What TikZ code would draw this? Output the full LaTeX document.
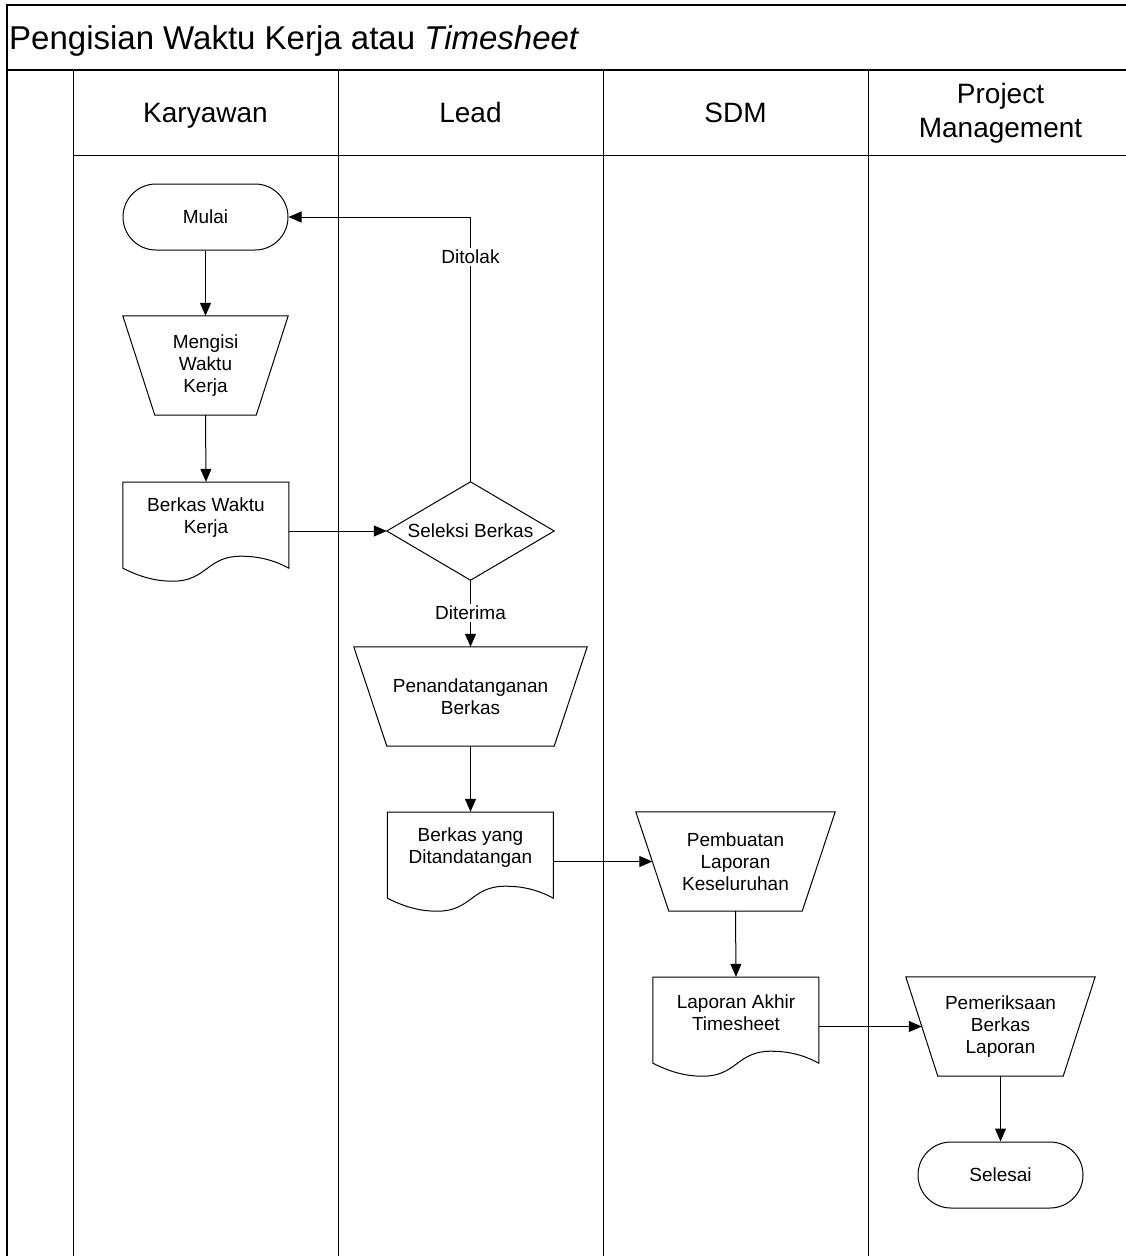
\documentclass[tikz,border=0pt]{standalone}
\usepackage{fontspec}
\setmainfont{Liberation Sans}
\usetikzlibrary{arrows.meta,calc}
\tikzset{
  every node/.style={font=\fontsize{19}{22}\selectfont, align=center, inner sep=0pt},
  term/.style={draw, line width=1pt, rounded corners=33pt, minimum width=165pt, minimum height=66pt},
  manop/.style={minimum width=#1, minimum height=99pt},
  docu/.style={minimum width=166pt, minimum height=72pt},
  decis/.style={minimum width=167pt, minimum height=98pt},
  arr/.style={-{Triangle[length=13pt,width=11pt]}, line width=1pt},
  lbl/.style={fill=white, inner sep=2pt},
  shp/.style={line width=1pt},
  lane/.style={line width=1pt},
  frm/.style={line width=1.6pt},
  hdr/.style={font=\fontsize{28}{34}\selectfont},
}
\newcommand{\trapdraw}[2]{\draw[shp] (#1.north west) -- (#1.north east) -- ([xshift=-#2]#1.south east) -- ([xshift=#2]#1.south west) -- cycle;}
\newcommand{\docdraw}[1]{\begin{scope}[shift={([yshift=-14pt]#1.south west)}, x=1pt, y=1pt]
  \draw[shp] (0,0) .. controls (20,-10) and (35,-13) .. (50,-13) .. controls (84,-13) and (84,12) .. (118,12) .. controls (140,12) and (155,6) .. (166,0) -- (166,86) -- (0,86) -- cycle;
\end{scope}}
\begin{document}
\begin{tikzpicture}[x=1pt,y=-1pt]
\clip (0,0) rectangle (1126,1256);
% frame and lanes
\draw[frm] (7,1300) -- (7,5) -- (1140,5);
\draw[frm] (7,70) -- (1140,70);
\draw[lane] (73,70) -- (73,1300);
\draw[lane] (338,70) -- (338,1300);
\draw[lane] (603,70) -- (603,1300);
\draw[lane] (868,70) -- (868,1300);
\draw[lane] (73,155) -- (1140,155);
% title and headers
\node[anchor=base west, font=\fontsize{33}{40}\selectfont] (title) at (9,49) {Pengisian Waktu Kerja atau \textit{Timesheet}};
\node[hdr, anchor=base] (hk) at (205.5,122) {Karyawan};
\node[hdr, anchor=base] (hl) at (470.5,122) {Lead};
\node[hdr, anchor=base] (hs) at (735.5,122) {SDM};
\node[hdr] (hp) at (1000.5,113) {Project\\Management};
% nodes
\node[term] (mulai) at (205.5,217) {Mulai};
\node[manop=165pt] (mengisi) at (205.5,365.5) {Mengisi\\Waktu\\Kerja};
\trapdraw{mengisi}{32pt}
\node[docu] (berkas) at (206,518) {Berkas Waktu\\Kerja};
\docdraw{berkas}
\node[decis] (seleksi) at (470.5,531) {Seleksi Berkas};
\draw[shp] (seleksi.north) -- (seleksi.east) -- (seleksi.south) -- (seleksi.west) -- cycle;
\node[manop=233pt] (tanda) at (470.5,696.5) {Penandatanganan\\Berkas};
\trapdraw{tanda}{33pt}
\node[docu] (ditanda) at (470.5,848) {Berkas yang\\Ditandatangan};
\docdraw{ditanda}
\node[manop=199pt] (buat) at (735.5,861.5) {Pembuatan\\Laporan\\Keseluruhan};
\trapdraw{buat}{33pt}
\node[docu] (laporan) at (736,1013) {Laporan Akhir\\Timesheet};
\docdraw{laporan}
\node[manop=189pt] (periksa) at (1000.5,1026.5) {Pemeriksaan\\Berkas\\Laporan};
\trapdraw{periksa}{32pt}
\node[term] (selesai) at (1000.5,1175) {Selesai};
\coordinate (buatW) at ([xshift=16.5pt]buat.west);
\coordinate (periksaW) at ([xshift=16pt]periksa.west);
% connectors
\draw[arr] (mulai.south) -- (mengisi.north);
\draw[arr] (mengisi.south) -- (berkas.north);
\draw[arr] (berkas.east |- seleksi.west) -- (seleksi.west);
\draw[arr] (seleksi.north) |- (mulai.east);
\draw[arr] (seleksi.south) -- (tanda.north);
\draw[arr] (tanda.south) -- (ditanda.north);
\draw[arr] (ditanda.east |- buatW) -- (buatW);
\draw[arr] (buat.south) -- (laporan.north);
\draw[arr] (laporan.east |- periksaW) -- (periksaW);
\draw[arr] (periksa.south) -- (selesai.north);
\node[lbl] (ditolak) at (470.5,257) {Ditolak};
\node[lbl] (diterima) at (470.5,613) {Diterima};
\end{tikzpicture}
\end{document}
